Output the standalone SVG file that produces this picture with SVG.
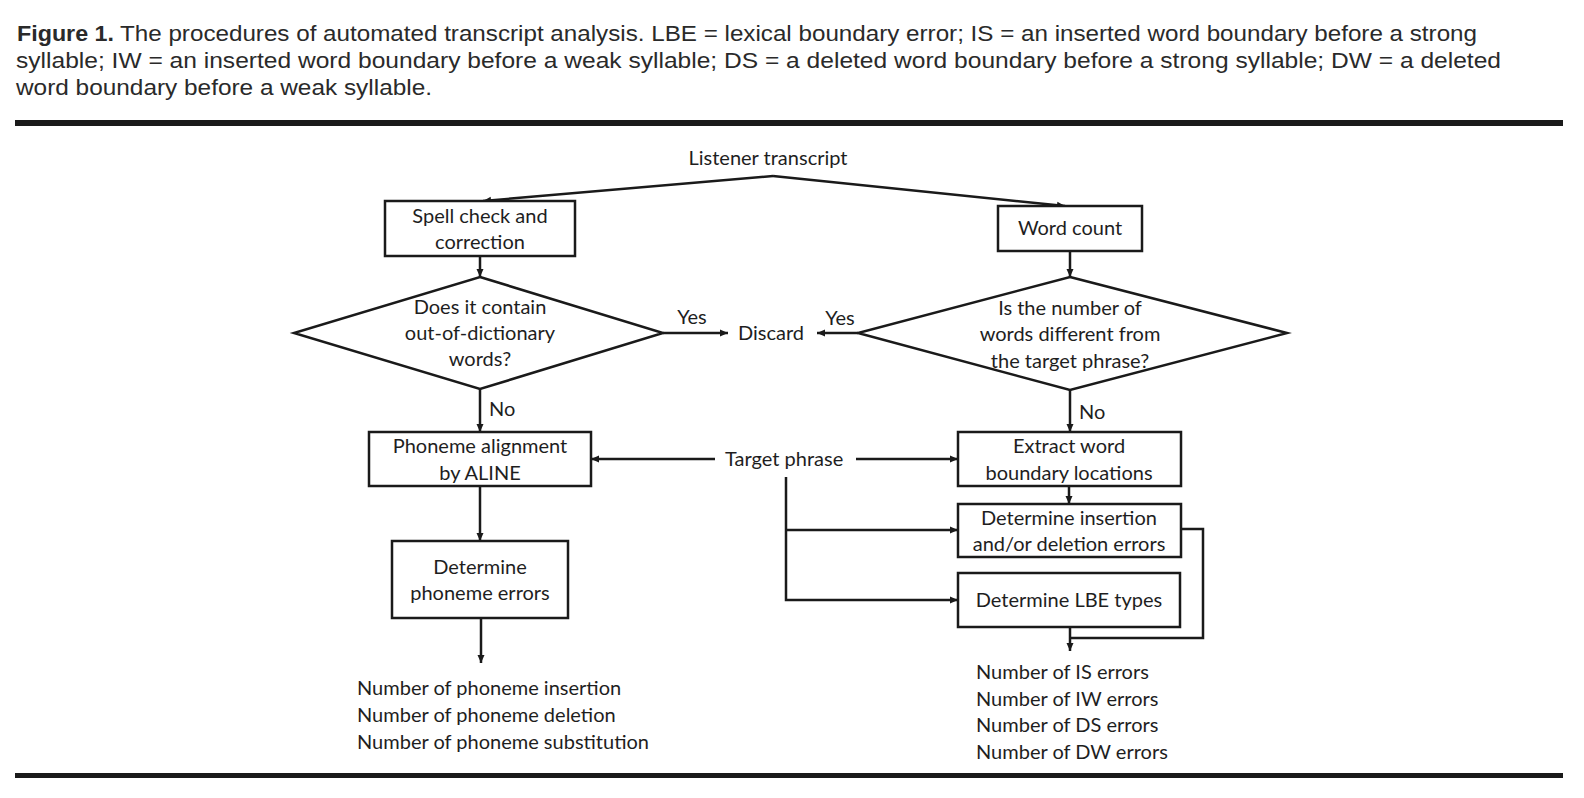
<svg xmlns="http://www.w3.org/2000/svg" width="1584" height="798" viewBox="0 0 1584 798">
<defs>
<style>
.cap{font-family:"Liberation Sans",Arial,sans-serif;font-size:22px;fill:#2a2a2a}
.t{font-family:Lato,"Open Sans",sans-serif;font-size:20px;fill:#1e1e1e}
.m{text-anchor:middle}
.box{fill:#fff;stroke:#1a1a1a;stroke-width:2.5}
.ln{fill:none;stroke:#1a1a1a;stroke-width:2.5}
.rule{fill:#1a1a1a}
</style>
<marker id="ah" viewBox="0 0 8 8" refX="8" refY="4" markerWidth="8" markerHeight="8" markerUnits="userSpaceOnUse" orient="auto">
<path d="M0,0.5 L8,4 L0,7.5 z" fill="#1a1a1a"/>
</marker>
</defs>
<rect width="1584" height="798" fill="#fff"/>
<g id="caption">
<text class="cap" x="17" y="41" font-weight="bold" textLength="97" lengthAdjust="spacingAndGlyphs">Figure 1.</text>
<text class="cap" x="120" y="41" textLength="1357" lengthAdjust="spacingAndGlyphs">The procedures of automated transcript analysis. LBE = lexical boundary error; IS = an inserted word boundary before a strong</text>
<text class="cap" x="16" y="68" textLength="1485" lengthAdjust="spacingAndGlyphs">syllable; IW = an inserted word boundary before a weak syllable; DS = a deleted word boundary before a strong syllable; DW = a deleted</text>
<text class="cap" x="16" y="95" textLength="416" lengthAdjust="spacingAndGlyphs">word boundary before a weak syllable.</text>
</g>
<rect class="rule" x="15" y="120" width="1548" height="6"/>
<rect class="rule" x="15" y="773" width="1548" height="5"/>
<g id="connectors">
<path class="ln" d="M773,176 L1065,206" marker-end="url(#ah)"/>
<path class="ln" d="M773,176 L483,201" marker-end="url(#ah)"/>
<path class="ln" d="M480,256 L480,277" marker-end="url(#ah)"/>
<path class="ln" d="M1070,251 L1070,277" marker-end="url(#ah)"/>
<path class="ln" d="M663,333 L728,333" marker-end="url(#ah)"/>
<path class="ln" d="M858,333 L817,333" marker-end="url(#ah)"/>
<path class="ln" d="M480,389 L480,432" marker-end="url(#ah)"/>
<path class="ln" d="M1070,390 L1070,432" marker-end="url(#ah)"/>
<path class="ln" d="M715,459 L591,459" marker-end="url(#ah)"/>
<path class="ln" d="M856,459 L958,459" marker-end="url(#ah)"/>
<path class="ln" d="M1069,486 L1069,504" marker-end="url(#ah)"/>
<path class="ln" d="M786,477 L786,600 L958,600" marker-end="url(#ah)"/>
<path class="ln" d="M786,530 L958,530" marker-end="url(#ah)"/>
<path class="ln" d="M1181,529 L1203,529 L1203,638 L1070,638"/>
<path class="ln" d="M1070,627 L1070,651" marker-end="url(#ah)"/>
<path class="ln" d="M480,486 L480,541" marker-end="url(#ah)"/>
<path class="ln" d="M481,618 L481,663" marker-end="url(#ah)"/>
<text class="t m" x="692" y="324">Yes</text>
<text class="t m" x="840" y="325">Yes</text>
<text class="t" x="489" y="416">No</text>
<text class="t" x="1079" y="419">No</text>
</g>
<g id="listener"><text class="t m" x="768" y="165">Listener transcript</text></g>
<g id="spell">
<rect class="box" x="385" y="201" width="190" height="55"/>
<text class="t m" x="480" y="223">Spell check and</text>
<text class="t m" x="480" y="249">correction</text>
</g>
<g id="wordcount">
<rect class="box" x="998" y="206" width="144" height="45"/>
<text class="t m" x="1070" y="235">Word count</text>
</g>
<g id="dict">
<polygon class="box" points="480,277 663,333 480,389 294,333"/>
<text class="t m" x="480" y="314">Does it contain</text>
<text class="t m" x="480" y="340">out-of-dictionary</text>
<text class="t m" x="480" y="366">words?</text>
</g>
<g id="numwords">
<polygon class="box" points="1070,277 1287,333 1070,390 858,333"/>
<text class="t m" x="1070" y="315">Is the number of</text>
<text class="t m" x="1070" y="341">words different from</text>
<text class="t m" x="1070" y="368">the target phrase?</text>
</g>
<g id="discard"><text class="t" x="738" y="340">Discard</text></g>
<g id="phoneme">
<rect class="box" x="369" y="432" width="222" height="54"/>
<text class="t m" x="480" y="453">Phoneme alignment</text>
<text class="t m" x="480" y="480">by ALINE</text>
</g>
<g id="target"><text class="t" x="725" y="466">Target phrase</text></g>
<g id="extract">
<rect class="box" x="958" y="432" width="223" height="54"/>
<text class="t m" x="1069" y="453">Extract word</text>
<text class="t m" x="1069" y="480">boundary locations</text>
</g>
<g id="insdel">
<rect class="box" x="958" y="504" width="223" height="53"/>
<text class="t m" x="1069" y="525">Determine insertion</text>
<text class="t m" x="1069" y="551">and/or deletion errors</text>
</g>
<g id="lbe">
<rect class="box" x="958" y="573" width="222" height="54"/>
<text class="t m" x="1069" y="607">Determine LBE types</text>
</g>
<g id="phonerr">
<rect class="box" x="392" y="541" width="176" height="77"/>
<text class="t m" x="480" y="574">Determine</text>
<text class="t m" x="480" y="600">phoneme errors</text>
</g>
<g id="out-left">
<text class="t" x="357" y="695">Number of phoneme insertion</text>
<text class="t" x="357" y="722">Number of phoneme deletion</text>
<text class="t" x="357" y="749">Number of phoneme substitution</text>
</g>
<g id="out-right">
<text class="t" x="976" y="679">Number of IS errors</text>
<text class="t" x="976" y="706">Number of IW errors</text>
<text class="t" x="976" y="732">Number of DS errors</text>
<text class="t" x="976" y="759">Number of DW errors</text>
</g>
</svg>
